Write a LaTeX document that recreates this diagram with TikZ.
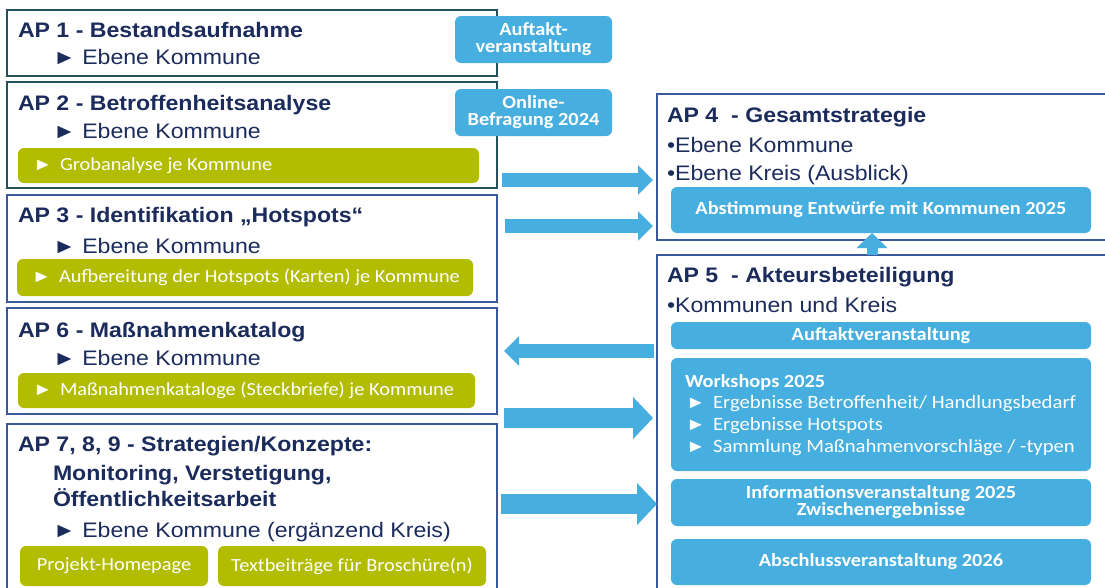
\documentclass[tikz,border=0pt]{standalone}
\usepackage{fontspec}
\setmainfont{Liberation Sans}[FakeStretch=1.1]
\newfontfamily\calfont{Carlito}[FakeStretch=1.1]
\usetikzlibrary{arrows.meta}
\definecolor{navy}{HTML}{1B2B5C}
\definecolor{tealb}{HTML}{24505F}
\definecolor{blueb}{HTML}{3A5A9C}
\definecolor{lblue}{HTML}{47AFDF}
\definecolor{olive}{HTML}{B2BC00}
\tikzset{
  apbox/.style={draw, line width=2.6pt, anchor=north west, inner sep=0pt, outer sep=0pt},
  lbl/.style={anchor=base west, inner sep=0pt, outer sep=0pt, text=navy},
  ttl/.style={lbl, font=\bfseries\fontsize{21}{25}\selectfont},
  bdy/.style={lbl, font=\fontsize{21}{25}\selectfont},
  gbox/.style={fill=olive, rounded corners=6pt, text=white, anchor=north west, outer sep=0pt, inner ysep=0pt,
    font=\calfont\fontsize{18.5}{22}\selectfont},
  gleft/.style={gbox, inner xsep=17pt},
  bbox/.style={fill=lblue, rounded corners=6pt, text=white, anchor=north west, outer sep=0pt, inner sep=0pt,
    align=center, font=\calfont\bfseries\fontsize{18.5}{17}\selectfont},
  wtxt/.style={anchor=base west, inner sep=0pt, outer sep=0pt, text=white, font=\calfont\fontsize{18.8}{22}\selectfont},
  barrow/.style={draw=lblue, line width=14pt, -{Triangle[width=29pt,length=15pt]}},
  bigarrow/.style={draw=lblue, line width=20pt, -{Triangle[width=41pt,length=20pt]}},
  uparrow/.style={draw=lblue, line width=11pt, -{Triangle[width=30pt,length=15pt]}},
}
\newcommand{\trib}{\makebox[25pt][l]{\hspace*{-2pt}\normalfont\fontsize{18}{18}\selectfont ►}}
\newcommand{\gline}[2]{\makebox[#1][l]{\trib #2}}
\begin{document}
\begin{tikzpicture}[x=1pt,y=-1pt]
\path[use as bounding box, clip] (0,0) rectangle (1105,587);
\fill[white] (0,0) rectangle (1105,587);

% ---------- left column boxes
\node[apbox, draw=tealb, minimum width=490pt, minimum height=66pt] (ap1) at (7,10) {};
\node[apbox, draw=tealb, minimum width=490pt, minimum height=106pt] (ap2) at (7,82) {};
\node[apbox, draw=blueb, minimum width=490pt, minimum height=107pt] (ap3) at (7,195) {};
\node[apbox, draw=blueb, minimum width=490pt, minimum height=106pt] (ap6) at (7,308) {};
\node[apbox, draw=blueb, minimum width=490pt, minimum height=180pt] (ap7) at (7,424) {};

% AP1
\node[ttl] (ap1t) at (18,37) {AP 1 - Bestandsaufnahme};
\node[bdy] (ap1e) at (53,64) {► Ebene Kommune};
% AP2
\node[ttl] (ap2t) at (18,110) {AP 2 - Betroffenheitsanalyse};
\node[bdy] (ap2e) at (53,138) {► Ebene Kommune};
\node[gleft, minimum width=461pt, minimum height=35pt] (ap2g) at (18,148) {\gline{427pt}{Grobanalyse je Kommune}};
% AP3
\node[ttl] (ap3t) at (18,222) {AP 3 - Identifikation „Hotspots“};
\node[bdy] (ap3e) at (53,253) {► Ebene Kommune};
\node[gleft, minimum width=456pt, minimum height=37pt] (ap3g) at (17,259) {\gline{422pt}{Aufbereitung der Hotspots (Karten) je Kommune}};
% AP6
\node[ttl] (ap6t) at (18,337) {AP 6 - Maßnahmenkatalog};
\node[bdy] (ap6e) at (53,365) {► Ebene Kommune};
\node[gleft, minimum width=457pt, minimum height=35pt] (ap6g) at (18,373) {\gline{423pt}{Maßnahmenkataloge (Steckbriefe) je Kommune}};
% AP7
\node[ttl] (ap7t) at (18,451) {AP 7, 8, 9 - Strategien/Konzepte:};
\node[ttl] (ap7t2) at (53,480) {Monitoring, Verstetigung,};
\node[ttl] (ap7t3) at (53,506) {Öffentlichkeitsarbeit};
\node[bdy] (ap7e) at (53,537) {► Ebene Kommune (ergänzend Kreis)};
\node[gbox, inner xsep=0pt, minimum width=188pt, minimum height=40pt] (ap7g1) at (20,546) {Projekt-Homepage};
\node[gbox, inner xsep=0pt, minimum width=268pt, minimum height=40pt] (ap7g2) at (218,546) {Textbeiträge für Broschüre(n)};

% callouts
\node[bbox, minimum width=157pt, minimum height=47pt] (c1) at (455,16) {Auftakt-\\veranstaltung};
\node[bbox, minimum width=157pt, minimum height=47pt] (c2) at (455,89) {Online-\\Befragung 2024};

% ---------- right column
\node[apbox, draw=blueb, minimum width=470pt, minimum height=146pt] (ap4) at (657,94) {};
\node[ttl] (ap4t) at (667,122) {AP 4\ \ - Gesamtstrategie};
\node[bdy] (ap4a) at (667,152) {•Ebene Kommune};
\node[bdy] (ap4b) at (667,180) {•Ebene Kreis (Ausblick)};
\node[bbox, minimum width=420pt, minimum height=46pt] (abst) at (671,187) {Abstimmung Entwürfe mit Kommunen 2025};

\node[apbox, draw=blueb, minimum width=470pt, minimum height=360pt] (ap5) at (657,255) {};
\node[ttl] (ap5t) at (667,282) {AP 5\ \ - Akteursbeteiligung};
\node[bdy] (ap5a) at (667,312) {•Kommunen und Kreis};
\node[bbox, minimum width=420pt, minimum height=27pt] (auft) at (671,322) {Auftaktveranstaltung};
\node[bbox, minimum width=420pt, minimum height=113pt] (ws) at (671,358) {};
\node[wtxt, font=\calfont\bfseries\fontsize{18.5}{22}\selectfont] (wst) at (685,387) {Workshops 2025};
\node[wtxt] (ws1) at (688,408) {\trib Ergebnisse Betroffenheit/ Handlungsbedarf};
\node[wtxt] (ws2) at (688,430) {\trib Ergebnisse Hotspots};
\node[wtxt] (ws3) at (688,452) {\trib Sammlung Maßnahmenvorschläge\ / -typen};
\node[bbox, minimum width=420pt, minimum height=47pt] (info) at (671,479) {Informationsveranstaltung 2025\\Zwischenergebnisse};
\node[bbox, minimum width=420pt, minimum height=46pt] (absch) at (671,539) {Abschlussveranstaltung 2026};

% ---------- arrows
\draw[barrow, shorten <=5pt, shorten >=4pt] (ap2.east |- 0,180) -- (ap4.west |- 0,180);
\draw[barrow, shorten <=8pt, shorten >=4pt] (ap3.east |- 0,226) -- (ap4.west |- 0,226);
\draw[barrow, shorten <=3pt, shorten >=7pt] (ap5.west |- 0,351) -- (ap6.east |- 0,351);
\draw[bigarrow, shorten <=7pt, shorten >=4pt] (ap6.east |- 0,418) -- (ap5.west |- 0,418);
\draw[bigarrow, shorten <=4pt, shorten >=0pt] (ap7.east |- 0,504) -- (ap5.west |- 0,504);
\draw[uparrow] (ap5.north -| 872,0) -- (abst.south -| 872,0);
\end{tikzpicture}
\end{document}
